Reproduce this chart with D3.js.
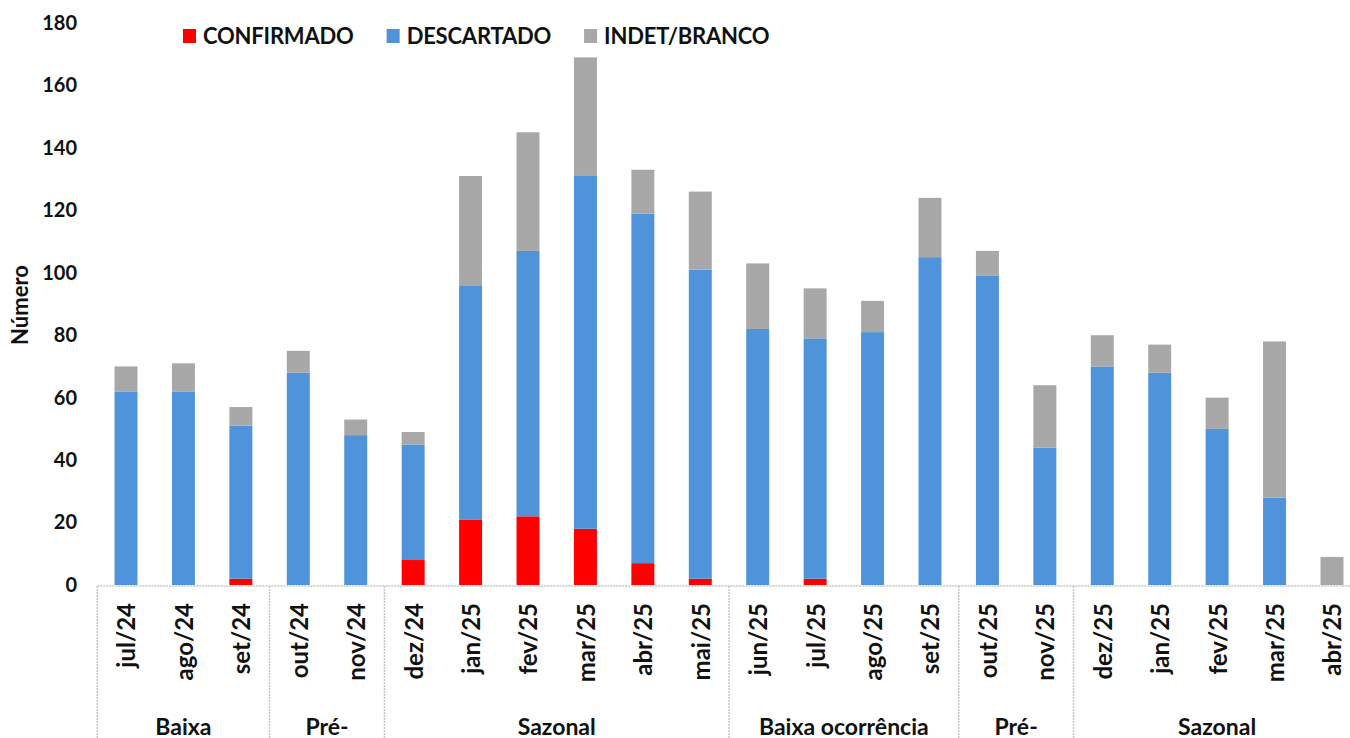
<!DOCTYPE html>
<html>
<head>
<meta charset="utf-8">
<script src="https://cdn.jsdelivr.net/npm/d3@7"></script>
<style>
  html, body { margin: 0; padding: 0; background: #fff; }
  svg { display: block; font-family: Lato, "Noto Sans", sans-serif; font-weight: 700; }
</style>
</head>
<body>
<svg id="chart" width="1350" height="738"></svg>
<script>
"use strict";

// months of the surveillance period
const months = [
  "jul/24", "ago/24", "set/24", "out/24", "nov/24", "dez/24",
  "jan/25", "fev/25", "mar/25", "abr/25", "mai/25", "jun/25",
  "jul/25", "ago/25", "set/25", "out/25", "nov/25", "dez/25",
  "jan/25", "fev/25", "mar/25", "abr/25"
];

const confirmado = [0, 0, 2, 0, 0, 8, 21, 22, 18, 7, 2, 0, 2, 0, 0, 0, 0, 0, 0, 0, 0, 0];
const descartado = [62, 62, 49, 68, 48, 37, 75, 85, 113, 112, 99, 82, 77, 81, 105, 99, 44, 70, 68, 50, 28, 0];
const indet = [8, 9, 6, 7, 5, 4, 35, 38, 38, 14, 25, 21, 16, 10, 19, 8, 20, 10, 9, 10, 50, 9];

// second level of the category axis: label + number of months
const periods = [
  ["Baixa", 3], ["Pré-", 2], ["Sazonal", 6],
  ["Baixa ocorrência", 4], ["Pré-", 2], ["Sazonal", 5]
];

const seriesNames = ["CONFIRMADO", "DESCARTADO", "INDET/BRANCO"];
const yTicks = [0, 20, 40, 60, 80, 100, 120, 140, 160, 180];

const colors = ["#ff0000", "#4f94da", "url(#dots)"];

const svg = d3.select("#chart");

// dotted grey fill used for the third series
const pat = svg.append("defs").append("pattern")
  .attr("id", "dots")
  .attr("width", 4).attr("height", 4)
  .attr("patternUnits", "userSpaceOnUse");
pat.append("rect").attr("width", 4).attr("height", 4).attr("fill", "#a7a7a7");
pat.append("rect").attr("x", 1).attr("y", 1).attr("width", 1).attr("height", 1).attr("fill", "#b3b3b3");

const x = d3.scaleBand()
  .domain(d3.range(months.length))
  .range([97.3, 1360.7])
  .paddingInner(0.6)
  .paddingOuter(0.3);

const y = d3.scaleLinear().domain([0, 180]).range([585, 23]);

// stack the three series
const rows = months.map((m, i) => ({
  i, CONFIRMADO: confirmado[i], DESCARTADO: descartado[i], "INDET/BRANCO": indet[i]
}));
const stacked = d3.stack().keys(seriesNames)(rows);

svg.append("g")
  .selectAll("g")
  .data(stacked)
  .join("g")
  .attr("fill", (d, k) => colors[k])
  .selectAll("rect")
  .data((d) => d.filter((p) => p[1] > p[0]))
  .join("rect")
  .attr("x", (d) => x(d.data.i))
  .attr("width", x.bandwidth())
  .attr("y", (d) => y(d[1]))
  .attr("height", (d) => y(d[0]) - y(d[1]));

// y axis labels
const yAxis = svg.append("g")
  .attr("transform", "translate(77,0)")
  .call(d3.axisLeft(y).tickValues(yTicks).tickSize(0).tickPadding(0));
yAxis.select(".domain").remove();
yAxis.selectAll("text")
  .attr("font-family", "Lato, sans-serif")
  .attr("font-weight", 700)
  .attr("font-size", 20)
  .attr("fill", "#111");

svg.append("text")
  .attr("transform", "translate(20,305) rotate(-90)")
  .attr("text-anchor", "middle")
  .attr("dy", "0.35em")
  .attr("font-size", 22)
  .attr("fill", "#111")
  .text("Número");

// category axis line
const step = x.step();
const axisLeft = x(0) - x.paddingOuter() * step;
const axisRight = axisLeft + months.length * step;

svg.append("line")
  .attr("x1", axisLeft).attr("x2", axisRight)
  .attr("y1", 586).attr("y2", 586)
  .attr("stroke", "#c6c6c6").attr("stroke-width", 1.5)
  .attr("stroke-dasharray", "2,1");

// month labels
svg.append("g")
  .selectAll("text")
  .data(months)
  .join("text")
  .attr("transform", (d, i) => `translate(${x(i) + x.bandwidth() / 2 + 1},603) rotate(-90)`)
  .attr("text-anchor", "end")
  .attr("dy", "0.35em")
  .attr("font-size", 24)
  .attr("fill", "#111")
  .text((d) => d);

// period separators + labels
let start = 0;
const bounds = [];
periods.forEach(([label, n]) => {
  bounds.push({ label, a: axisLeft + start * step, b: axisLeft + (start + n) * step });
  start += n;
});

svg.append("g")
  .selectAll("line")
  .data(bounds)
  .join("line")
  .attr("x1", (d) => d.a).attr("x2", (d) => d.a)
  .attr("y1", 586).attr("y2", 738)
  .attr("stroke", "#c6c6c6").attr("stroke-width", 1.5)
  .attr("stroke-dasharray", "2,1");

svg.append("g")
  .selectAll("text")
  .data(bounds)
  .join("text")
  .attr("x", (d) => (d.a + d.b) / 2)
  .attr("y", 735)
  .attr("text-anchor", "middle")
  .attr("font-size", 23)
  .attr("fill", "#111")
  .text((d) => d.label);

// legend
const legendColors = ["#ff0000", "#4f94da", "#a7a7a7"];
let lx = 183;
seriesNames.forEach((name, k) => {
  const g = svg.append("g").attr("transform", `translate(${lx},0)`);
  g.append("rect")
    .attr("x", 0).attr("y", 29)
    .attr("width", 13).attr("height", 14)
    .attr("fill", legendColors[k]);
  const t = g.append("text")
    .attr("x", 20).attr("y", 36)
    .attr("dy", "0.35em")
    .attr("font-size", 22)
    .attr("letter-spacing", -0.2)
    .attr("fill", "#111")
    .text(name);
  lx += 20 + t.node().getComputedTextLength() + 33;
});
</script>
</body>
</html>
